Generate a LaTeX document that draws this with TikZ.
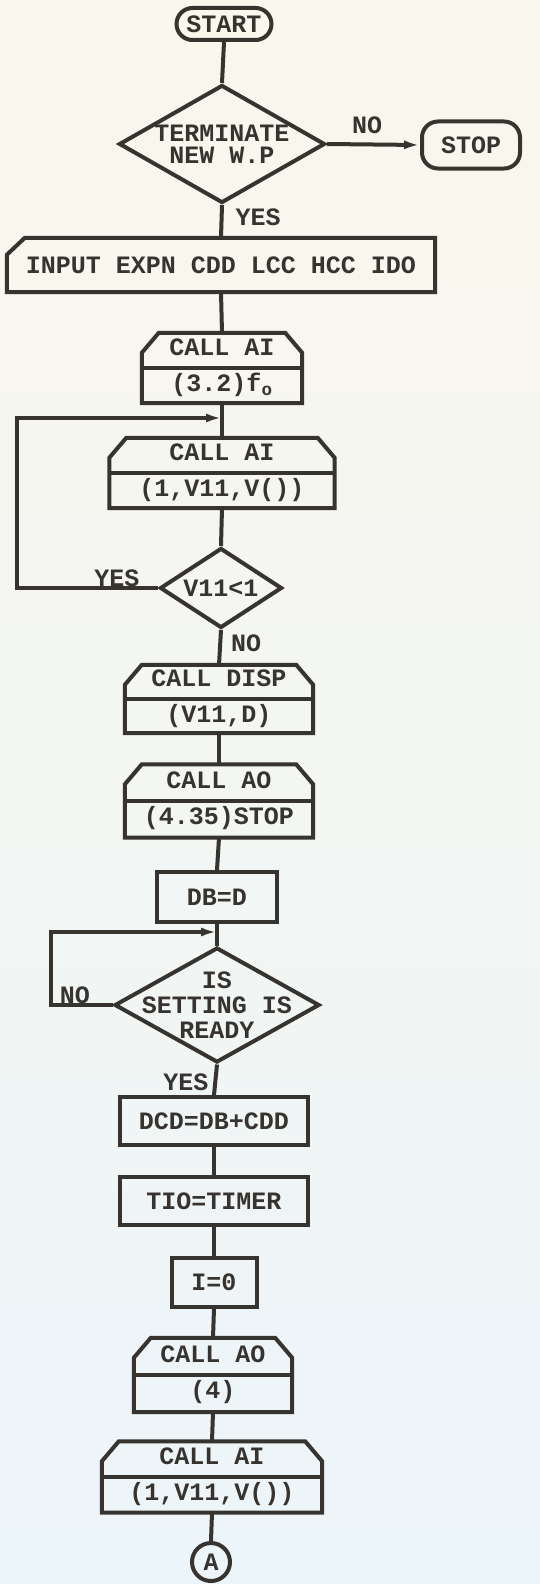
\documentclass[tikz,border=0pt]{standalone}
\usepackage{fontspec}
\setmonofont{Liberation Mono}
\usepackage{tikz}
\usetikzlibrary{shapes.geometric, arrows.meta}

\begin{document}
\begin{tikzpicture}[x=1pt, y=-1pt,
        every node/.style={font=\ttfamily\bfseries\fontsize{25}{36}\selectfont, text=encre},
        trait/.style={draw=encre, line width=4pt},
        fleche/.style={trait, -{Latex[length=16pt, width=9pt]}},
        terminal/.style={trait, rectangle, rounded corners=16pt, inner sep=0pt},
        boite/.style={trait, rectangle, inner sep=0pt},
        appel/.style={rectangle, inner sep=0pt, align=center, minimum height=70pt},
        decision/.style={trait, diamond, inner sep=0pt, align=center},
        lbl/.style={inner sep=0pt}]

        % Couleurs
        \definecolor{encre}{RGB}{55, 51, 47}
        \definecolor{papierA}{RGB}{250, 247, 236}
        \definecolor{papierB}{RGB}{236, 245, 250}

        % Fond
        \shade[top color=papierA, bottom color=papierB] (0,0) rectangle (540,1584);
        \useasboundingbox (0,0) rectangle (540,1584);

        % Début
        \node[terminal, minimum width=95pt, minimum height=32pt] (start) at (224,24) {START};
        \node[decision, shape aspect=1.75, minimum width=206pt, minimum height=118pt, inner sep=-6pt] (term) at (222,144) {TERMINATE\\[-14pt]NEW W.P};
        \node[terminal, minimum width=98pt, minimum height=47pt] (stop) at (471,145) {STOP};
        \node[appel, minimum width=428pt, minimum height=54pt] (input) at (221,265) {INPUT EXPN CDD LCC HCC IDO};

        % Lecture et boucle V11
        \node[appel, minimum width=160pt] (ai1) at (222,368) {CALL AI\\(3.2)f\textsubscript{o}};
        \coordinate (j1) at (222,418);
        \node[appel, minimum width=225pt] (ai2) at (222,473) {CALL AI\\(1,V11,V())};
        \node[decision, shape aspect=1.5, minimum width=122pt, minimum height=80pt] (v11) at (221,588) {V11<1};
        \node[appel, minimum width=188pt, minimum height=68pt] (disp) at (219,699) {CALL DISP\\(V11,D)};
        \node[appel, minimum width=188pt, minimum height=73pt] (ao1) at (219,801) {CALL AO\\(4.35)STOP};

        % Attente du réglage
        \node[boite, minimum width=120pt, minimum height=50pt] (dbd) at (217,897) {DB=D};
        \coordinate (j2) at (217,932);
        \node[decision, shape aspect=1.78, minimum width=205pt, minimum height=115pt, inner sep=-16pt] (ready) at (217,1005) {IS\\[-11pt]SETTING IS\\[-11pt]READY};
        \node[boite, minimum width=188pt, minimum height=48pt] (dcd) at (214,1121) {DCD=DB+CDD};
        \node[boite, minimum width=188pt, minimum height=48pt] (tio) at (214,1201) {TIO=TIMER};
        \node[boite, minimum width=85pt, minimum height=49pt] (i0) at (214,1282) {I=0};
        \node[appel, minimum width=158pt, minimum height=74pt] (ao2) at (213,1375) {CALL AO\\(4)};
        \node[appel, minimum width=220pt, minimum height=71pt] (ai3) at (212,1477) {CALL AI\\(1,V11,V())};
        \node[trait, circle, minimum size=38pt, inner sep=0pt] (conA) at (211,1562) {A};

        % Contours des cartes
        \draw[trait] (input.south west) -- ([yshift=-17pt]input.north west) -- ([xshift=18pt]input.north west)
            -- (input.north east) -- (input.south east) -- cycle;
        \foreach \n in {ai1, ai2, disp, ao1, ao2, ai3} {
            \draw[trait] (\n.south west) -- ([yshift=-20pt]\n.north west) -- ([xshift=17pt]\n.north west)
                -- ([xshift=-17pt]\n.north east) -- ([yshift=-20pt]\n.north east) -- (\n.south east) -- cycle;
            \draw[trait] (\n.west) -- (\n.east);
        }

        % Liaisons
        \draw[trait] (start.south) -- (term.north);
        \draw[fleche] (term.east) -- (stop.west);
        \draw[trait] (term.south) -- (input.north);
        \draw[trait] (input.south) -- (ai1.north);
        \draw[trait] (ai1.south) -- (ai2.north);
        \draw[trait] (ai2.south) -- (v11.north);
        \draw[fleche] (v11.west) -- ++(-141,0) |- (j1);
        \draw[trait] (v11.south) -- (disp.north);
        \draw[trait] (disp.south) -- (ao1.north);
        \draw[trait] (ao1.south) -- (dbd.north);
        \draw[trait] (dbd.south) -- (ready.north);
        \draw[fleche] (ready.west) -- ++(-62,0) |- (j2);
        \draw[trait] (ready.south) -- (dcd.north);
        \draw[trait] (dcd.south) -- (tio.north);
        \draw[trait] (tio.south) -- (i0.north);
        \draw[trait] (i0.south) -- (ao2.north);
        \draw[trait] (ao2.south) -- (ai3.north);
        \draw[trait] (ai3.south) -- (conA.north);

        % Etiquettes
        \node[lbl] (lNo1) at (367,125) {NO};
        \node[lbl] (lYes1) at (258,217) {YES};
        \node[lbl] (lYes2) at (117,578) {YES};
        \node[lbl] (lNo2) at (246,643) {NO};
        \node[lbl] (lNo3) at (75,995) {NO};
        \node[lbl] (lYes3) at (186,1082) {YES};

    \end{tikzpicture}
\end{document}
